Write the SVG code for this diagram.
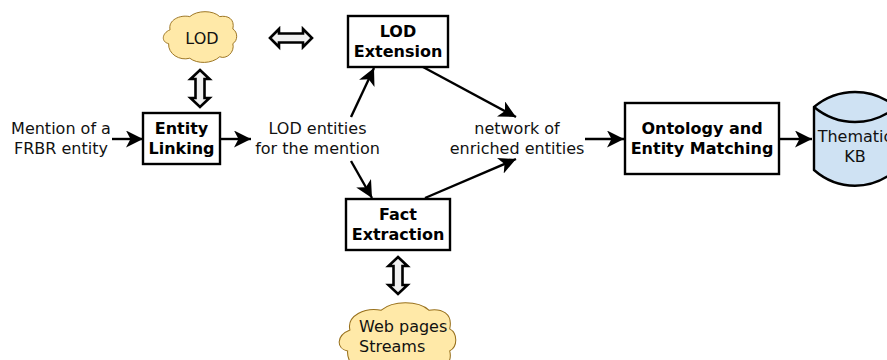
<svg xmlns="http://www.w3.org/2000/svg" width="887" height="360" viewBox="0 0 887 360">
<style>
text{font-family:"DejaVu Sans",sans-serif;font-size:16px;fill:#111;text-anchor:middle}
.b{font-weight:bold;fill:#000}
.box{fill:#fff;stroke:#000;stroke-width:2.4}
.cloud{fill:#ffe9a8;stroke:#98701c;stroke-width:1}
.c{stroke:#000;stroke-width:2.4;fill:none;marker-end:url(#a)}
.dbl{fill:#f0f0f0;stroke:#000;stroke-width:2.6;stroke-linejoin:miter}
</style>
<defs>
<marker id="a" markerUnits="userSpaceOnUse" markerWidth="20" markerHeight="18" refX="17" refY="8.500" orient="auto"><path d="M0 0L17 8.500L0 17L4.500 8.500Z" fill="#000"/></marker>
<path id="cl" d="M7 44C-3 42 -3 30 9 25C6 12 22 4 36 7C46 -2 68 -2 77 7C88 5 98 10 95 24C102 28 102 40 95 44C98 56 86 66 77 62C66 72 46 72 36 64C22 68 6 58 7 44Z"/>
</defs>
<g id="connectors">
<path class="c" d="M112 139H143"/>
<path class="c" d="M220 139H251"/>
<path class="c" d="M351 117L374 68"/>
<path class="c" d="M351 161L372 198"/>
<path class="c" d="M423 67L516 117"/>
<path class="c" d="M425 198L516 159"/>
<path class="c" d="M585 139H624"/>
<path class="c" d="M780 139H812"/>
<path class="dbl" d="M270 38L279 29V33.500H303V29L312 38L303 47V42.500H279V47Z"/>
<path class="dbl" d="M200 70L209.500 79H204.500V98H209.500L200 107L190.500 98H195.500V79H190.500Z"/>
<path class="dbl" d="M398 257L407.500 266H402.500V285H407.500L398 294L388.500 285H393.500V266H388.500Z"/>
</g>
<g id="lod"><use href="#cl" class="cloud" transform="translate(163.500 11.500) scale(.73 .73)" style="stroke-width:1.300"/><text x="202" y="44">LOD</text></g>
<g id="lod-extension"><rect class="box" x="348" y="16" width="100" height="51"/><text class="b" x="398" y="37">LOD</text><text class="b" x="398" y="57">Extension</text></g>
<g id="mention"><text x="61" y="134">Mention of a</text><text x="61" y="154">FRBR entity</text></g>
<g id="entity-linking"><rect class="box" x="143" y="113" width="77" height="51"/><text class="b" x="181.500" y="134">Entity</text><text class="b" x="181.500" y="154">Linking</text></g>
<g id="lod-entities"><text x="317.500" y="134">LOD entities</text><text x="317.500" y="154">for the mention</text></g>
<g id="network"><text x="517" y="134">network of</text><text x="517" y="154">enriched entities</text></g>
<g id="fact-extraction"><rect class="box" x="346" y="199" width="104" height="51"/><text class="b" x="398" y="220">Fact</text><text class="b" x="398" y="240">Extraction</text></g>
<g id="web"><use href="#cl" class="cloud" transform="translate(339.500 302.500) scale(1.160 1.100)" style="stroke-width:.9"/><text x="359" y="332" style="text-anchor:start">Web pages</text><text x="359" y="352" style="text-anchor:start">Streams</text></g>
<g id="ontology"><rect class="box" x="625" y="103" width="154" height="71"/><text class="b" x="702" y="134">Ontology and</text><text class="b" x="702" y="154">Entity Matching</text></g>
<g id="kb"><path d="M814 107C838 87 872 87 896 107V170C872 191 838 191 814 170Z" fill="#cfe2f3" stroke="#000" stroke-width="2.400"/><path d="M814 107C838 127 872 127 896 107" fill="none" stroke="#000" stroke-width="2.400"/><text x="855" y="142">Thematic</text><text x="855" y="162">KB</text></g>
</svg>
